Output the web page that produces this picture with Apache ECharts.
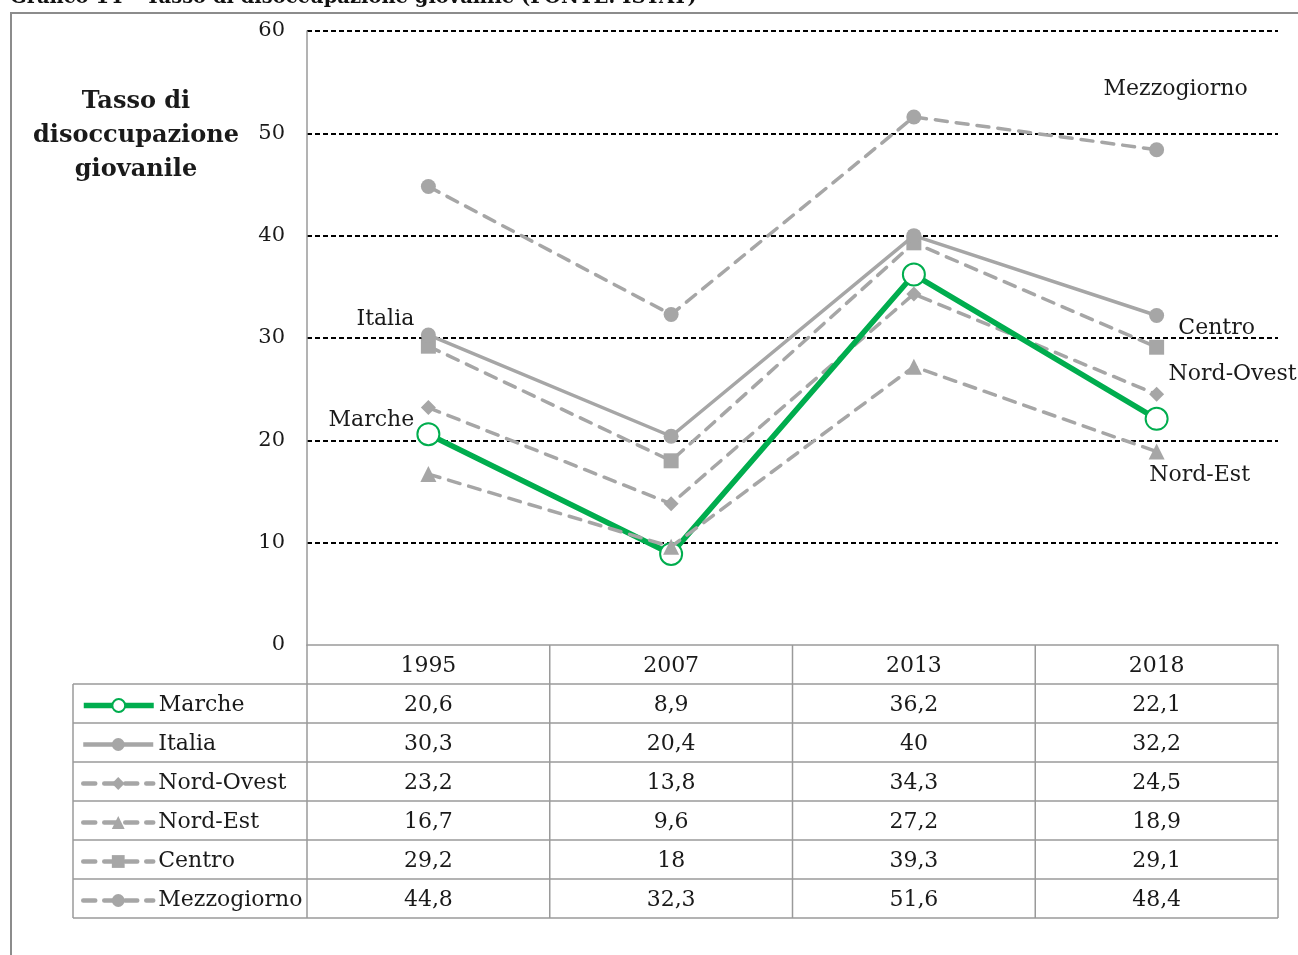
<!DOCTYPE html>
<html>
<head>
<meta charset="utf-8">
<script src="https://cdn.jsdelivr.net/npm/echarts@6/dist/echarts.min.js"></script>
<style>
  html, body { margin: 0; padding: 0; background: #fff; }
  #chart { width: 1298px; height: 955px; }
</style>
</head>
<body>
<div id="chart"></div>
<script>
// dati (FONTE: ISTAT)
const categories = ['1995', '2007', '2013', '2018']
const marche = [20.6, 8.9, 36.2, 22.1]
const italia = [30.3, 20.4, 40, 32.2]
const nordOvest = [23.2, 13.8, 34.3, 24.5]
const nordEst = [16.7, 9.6, 27.2, 18.9]
const centro = [29.2, 18, 39.3, 29.1]
const mezzogiorno = [44.8, 32.3, 51.6, 48.4]
const seriesNames = ['Marche', 'Italia', 'Nord-Ovest', 'Nord-Est', 'Centro', 'Mezzogiorno']
const seriesValues = [marche, italia, nordOvest, nordEst, centro, mezzogiorno]

const FONT = 'DejaVu Serif'
const GREEN = '#00ad4e'
const GREY = '#a6a6a6'
const TXT = '#1a1a1a'
const DASH = [12, 9]

const chart = echarts.init(document.getElementById('chart'))

// etichetta con il nome della serie su un solo punto
function withLabel(values, idx, name, offset) {
  return values.map((v, i) => i !== idx ? v : {
    value: v,
    label: {
      show: true, formatter: name, position: 'inside', offset: offset,
      fontFamily: FONT, fontSize: 22, color: TXT
    }
  })
}

function lineSeries(name, data, opts) {
  return Object.assign({
    name: name,
    type: 'line',
    data: data,
    symbol: 'circle',
    symbolSize: 15,
    lineStyle: { color: GREY, width: 3.5, type: DASH, cap: 'round' },
    itemStyle: { color: GREY },
    emphasis: { disabled: true },
    z: 2
  }, opts)
}

const series = [
  lineSeries('Mezzogiorno', withLabel(mezzogiorno, 3, 'Mezzogiorno', [19, -60]), {}),
  lineSeries('Centro', withLabel(centro, 3, 'Centro', [60, -19]), { symbol: 'rect', symbolSize: 15 }),
  lineSeries('Nord-Ovest', withLabel(nordOvest, 3, 'Nord-Ovest', [76, -20]), { symbol: 'diamond', symbolSize: 15 }),
  lineSeries('Italia', withLabel(italia, 0, 'Italia', [-43, -16]), { lineStyle: { color: GREY, width: 3.5, type: 'solid' } }),
  lineSeries('Marche', withLabel(marche, 0, 'Marche', [-57, -14]), {
    symbol: 'emptyCircle', symbolSize: 22,
    lineStyle: { color: GREEN, width: 5.5, type: 'solid' },
    itemStyle: { color: GREEN, borderWidth: 3 },
    z: 4
  }),
  lineSeries('Nord-Est', withLabel(nordEst, 3, 'Nord-Est', [43, 24]), { symbol: 'triangle', symbolSize: 16, z: 5 })
]

// una legenda per ogni riga della tabella
const rowTop = 684
const rowH = 39
const legends = seriesNames.map((n, i) => ({
  data: [n],
  left: 81,
  top: rowTop + i * rowH + rowH / 2 - 9,
  padding: 0,
  itemWidth: 70,
  itemHeight: 16,
  itemGap: 0,
  selectedMode: false,
  lineStyle: { width: i === 0 ? 5.5 : 4.5 },
  textStyle: { fontFamily: FONT, fontSize: 22, color: TXT }
}))

chart.setOption({
  animation: false,
  backgroundColor: '#fff',
  grid: { left: 307, right: 20, top: 31, bottom: 310 },
  legend: legends,
  xAxis: {
    type: 'category',
    data: categories,
    boundaryGap: true,
    axisLine: { show: true, lineStyle: { color: '#9a9a9a', width: 1.5 } },
    axisTick: { show: false },
    axisLabel: { show: false },
    splitLine: { show: false }
  },
  yAxis: {
    type: 'value',
    min: 0,
    max: 60,
    interval: 10,
    axisLine: { show: true, lineStyle: { color: '#9a9a9a', width: 1.5 } },
    axisTick: { show: false },
    axisLabel: { fontFamily: FONT, fontSize: 21, color: TXT, margin: 22, padding: [4, 0, 0, 0] },
    splitLine: {
      show: true,
      lineStyle: {
        color: ['rgba(0,0,0,0)', '#000', '#000', '#000', '#000', '#000', '#000'],
        width: 2,
        type: [5, 3]
      }
    }
  },
  series: series
})

// tabella dati e testi, posizionati tramite le scale del grafico
function fmt(v) { return String(v).replace('.', ',') }

const xs = categories.map(c => chart.convertToPixel({ xAxisIndex: 0 }, c))
const band = xs[1] - xs[0]
const colEdges = [xs[0] - band / 2].concat(xs.map(x => x + band / 2))
const tableLeft = 73
const headTop = chart.convertToPixel({ yAxisIndex: 0 }, 0)
const tableBottom = rowTop + seriesNames.length * rowH
const lineStyle = { stroke: '#9a9a9a', lineWidth: 1.5 }

const graphic = []
// titolo (tagliato in alto)
graphic.push({
  type: 'text', left: 10, top: -12,
  style: {
    text: 'Grafico 14 – Tasso di disoccupazione giovanile (FONTE: ISTAT)',
    font: 'bold 19.5px "' + FONT + '"', fill: '#111'
  }
})
// bordo esterno
graphic.push({
  type: 'rect', shape: { x: 11, y: 13, width: 1400, height: 1000 },
  style: { fill: 'none', stroke: '#8c8c8c', lineWidth: 2 }, silent: true
})
// titolo asse
graphic.push({
  type: 'text', x: 136, y: 136,
  style: {
    text: 'Tasso di\ndisoccupazione\ngiovanile',
    font: 'bold 24px "' + FONT + '"', fill: TXT,
    align: 'center', verticalAlign: 'middle', lineHeight: 34
  }
})
// linee verticali
colEdges.forEach(x => {
  graphic.push({ type: 'line', shape: { x1: x, y1: headTop, x2: x, y2: tableBottom }, style: lineStyle, silent: true })
})
graphic.push({ type: 'line', shape: { x1: tableLeft, y1: rowTop, x2: tableLeft, y2: tableBottom }, style: lineStyle, silent: true })
// linee orizzontali
for (let r = 0; r <= seriesNames.length; r++) {
  const y = rowTop + r * rowH
  graphic.push({ type: 'line', shape: { x1: tableLeft, y1: y, x2: colEdges[colEdges.length - 1], y2: y }, style: lineStyle, silent: true })
}
// intestazione anni
categories.forEach((c, j) => {
  graphic.push({
    type: 'text', x: xs[j], y: (headTop + rowTop) / 2 + 2,
    style: { text: c, font: '22px "' + FONT + '"', fill: TXT, align: 'center', verticalAlign: 'middle' }
  })
})
// valori
seriesValues.forEach((vals, i) => {
  vals.forEach((v, j) => {
    graphic.push({
      type: 'text', x: xs[j], y: rowTop + i * rowH + rowH / 2 + 2,
      style: { text: fmt(v), font: '22px "' + FONT + '"', fill: TXT, align: 'center', verticalAlign: 'middle' }
    })
  })
})

chart.setOption({ graphic: graphic })
</script>
</body>
</html>
